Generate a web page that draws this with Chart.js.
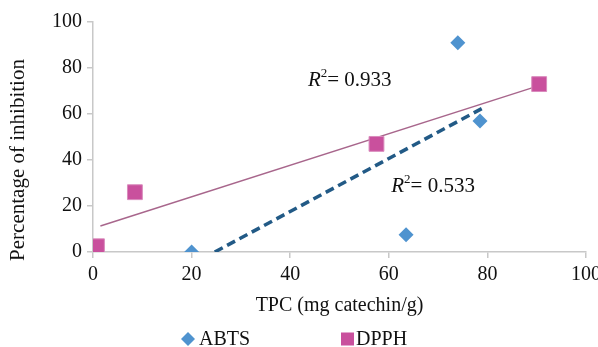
<!DOCTYPE html>
<html>
<head>
<meta charset="utf-8">
<script src="https://cdn.jsdelivr.net/npm/chart.js@4"></script>
<style>
  body { margin: 0; background: #fff; }
  canvas { display: block; }
</style>
</head>
<body>
<canvas id="tpcChart" width="598" height="347"></canvas>
<script>
// values
const abtsX = [20, 63.5, 74, 78.5];
const abtsY = [0, 7.5, 91, 57];
const dpphX = [0.8, 8.5, 57.5, 90.5];
const dpphY = [2.5, 26, 47, 73];

// linear trendlines (end points as drawn)
const abtsTrendX = [24.7, 79];
const abtsTrendY = [0, 62.5];
const dpphTrendX = [1.5, 90];
const dpphTrendY = [11.3, 72];

const xTicks = [0, 20, 40, 60, 80, 100];
const yTicks = [0, 20, 40, 60, 80, 100];

const r2Labels = [
  { text: "0.933", x: 43.6, y: 74.5 },
  { text: "0.533", x: 60.5, y: 28.5 }
];

const ABTS_COLOR = "#4f93cf";
const DPPH_COLOR = "#c9509d";
const SERIF = "'Liberation Serif', 'DejaVu Serif', serif";

const toPoints = (xs, ys) => xs.map((x, i) => ({ x, y: ys[i] }));

const extrasPlugin = {
  id: "extras",
  afterDraw(chart) {
    const { ctx, scales } = chart;
    ctx.save();
    ctx.fillStyle = "#111";

    // y axis title
    ctx.save();
    ctx.translate(18, 160);
    ctx.rotate(-Math.PI / 2);
    ctx.font = "21px " + SERIF;
    ctx.textAlign = "center";
    ctx.textBaseline = "middle";
    ctx.fillText("Percentage of inhibition", 0, 0);
    ctx.restore();

    // R² annotations
    ctx.textBaseline = "middle";
    ctx.textAlign = "left";
    r2Labels.forEach(l => {
      let px = scales.x.getPixelForValue(l.x);
      const py = scales.y.getPixelForValue(l.y);
      ctx.font = "italic 21px " + SERIF;
      ctx.fillText("R", px, py);
      px += ctx.measureText("R").width;
      ctx.font = "13px " + SERIF;
      ctx.fillText("2", px, py - 7);
      px += ctx.measureText("2").width;
      ctx.font = "21px " + SERIF;
      ctx.fillText("= " + l.text, px, py);
    });

    // legend
    const ly = 339;
    ctx.fillStyle = ABTS_COLOR;
    ctx.beginPath();
    ctx.moveTo(188, ly - 7);
    ctx.lineTo(195, ly);
    ctx.lineTo(188, ly + 7);
    ctx.lineTo(181, ly);
    ctx.closePath();
    ctx.fill();
    ctx.fillStyle = DPPH_COLOR;
    ctx.fillRect(341, ly - 6.5, 13, 13);
    ctx.fillStyle = "#111";
    ctx.font = "20px " + SERIF;
    ctx.fillText("ABTS", 199, ly + 1);
    ctx.fillText("DPPH", 356, ly + 1);
    ctx.restore();
  }
};

new Chart(document.getElementById("tpcChart"), {
  type: "scatter",
  data: {
    datasets: [
      {
        label: "ABTS",
        data: toPoints(abtsX, abtsY),
        pointStyle: "rectRot",
        pointRadius: 7.5,
        pointHoverRadius: 7.5,
        backgroundColor: ABTS_COLOR,
        borderColor: ABTS_COLOR,
        borderWidth: 0,
        order: 1
      },
      {
        label: "DPPH",
        data: toPoints(dpphX, dpphY),
        pointStyle: "rect",
        pointRadius: 10.5,
        pointHoverRadius: 10.5,
        backgroundColor: DPPH_COLOR,
        borderColor: "#d98cbd",
        borderWidth: 1,
        order: 1
      },
      {
        label: "ABTS trend",
        data: toPoints(abtsTrendX, abtsTrendY),
        showLine: true,
        pointRadius: 0,
        borderColor: "#225a86",
        borderWidth: 3.5,
        borderDash: [9, 5],
        order: 2
      },
      {
        label: "DPPH trend",
        data: toPoints(dpphTrendX, dpphTrendY),
        showLine: true,
        pointRadius: 0,
        borderColor: "#a8668c",
        borderWidth: 1.5,
        order: 2
      }
    ]
  },
  options: {
    responsive: false,
    devicePixelRatio: 1,
    animation: false,
    layout: { padding: { top: 22, right: 12, left: 0, bottom: 29 } },
    plugins: {
      legend: { display: false },
      tooltip: { enabled: false }
    },
    scales: {
      x: {
        type: "linear",
        min: 0,
        max: 100,
        afterBuildTicks: axis => { axis.ticks = xTicks.map(v => ({ value: v })); },
        afterFit: axis => { axis.height = 66; axis.paddingRight = 0; axis.paddingLeft = 0; },
        border: { color: "#c8c8c8", width: 1.5 },
        grid: { drawOnChartArea: false, color: "#c8c8c8", tickLength: 6, lineWidth: 1.5 },
        ticks: { color: "#111", font: { family: SERIF, size: 20 }, padding: 5 },
        title: {
          display: true,
          text: "TPC (mg catechin/g)",
          color: "#111",
          font: { family: SERIF, size: 20 },
          padding: { top: 4, bottom: 0 }
        }
      },
      y: {
        type: "linear",
        min: 0,
        max: 100,
        afterBuildTicks: axis => { axis.ticks = yTicks.map(v => ({ value: v })); },
        afterFit: axis => { axis.width = 93; axis.paddingTop = 0; axis.paddingBottom = 0; },
        border: { color: "#c8c8c8", width: 1.5 },
        grid: { drawOnChartArea: false, color: "#c8c8c8", tickLength: 6, lineWidth: 1.5 },
        ticks: { color: "#111", font: { family: SERIF, size: 20 }, padding: 5 }
      }
    }
  },
  plugins: [extrasPlugin]
});
</script>
</body>
</html>
